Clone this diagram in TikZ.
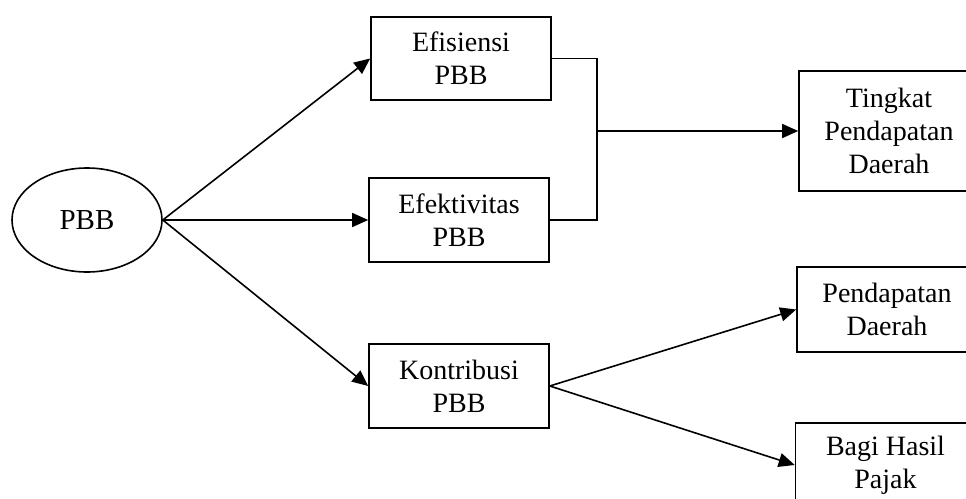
\documentclass[tikz,border=0pt]{standalone}
\usepackage{fontspec}
\setmainfont{Liberation Serif}
\usetikzlibrary{arrows.meta,shapes.geometric}
\begin{document}
\begin{tikzpicture}[x=1pt,y=-1pt,
  box/.style={draw,line width=1.6pt,rectangle,minimum width=180pt,minimum height=84pt,inner sep=0pt,align=center,font=\fontsize{28}{33}\selectfont},
  conn/.style={line width=1.6pt},
  arr/.style={conn,-{Triangle[length=16pt,width=14pt]}}]
\useasboundingbox (0,0) rectangle (966,498);
\node[draw,line width=1.6pt,ellipse,minimum width=150pt,minimum height=104pt,inner sep=0pt,font=\fontsize{29}{33}\selectfont] (pbb) at (87,220) {PBB};
\node[box,minimum height=83pt] (efis) at (461,58.5) {Efisiensi\\PBB};
\node[box] (efek) at (459,220) {Efektivitas\\PBB};
\node[box] (kon) at (459,386) {Kontribusi\\PBB};
\node[box,minimum height=120pt] (tpd) at (889,131) {Tingkat\\Pendapatan\\Daerah};
\node[box,minimum height=85pt] (pd) at (887,309.5) {Pendapatan\\Daerah};
\node[box] (bhp) at (885.5,465) {Bagi Hasil\\Pajak};
\coordinate (jx) at (597,0);
\draw[arr] (pbb.east) -- (efis.west);
\draw[arr] (pbb.east) -- (efek.west);
\draw[arr] (pbb.east) -- (kon.west);
\draw[conn] (efis.east) -- (efis.east -| jx) -- (efek.east -| jx) -- (efek.east);
\draw[arr] (jx |- tpd.west) -- (tpd.west);
\draw[arr] (kon.east) -- (pd.west);
\draw[arr] (kon.east) -- (bhp.west);
\end{tikzpicture}
\end{document}
